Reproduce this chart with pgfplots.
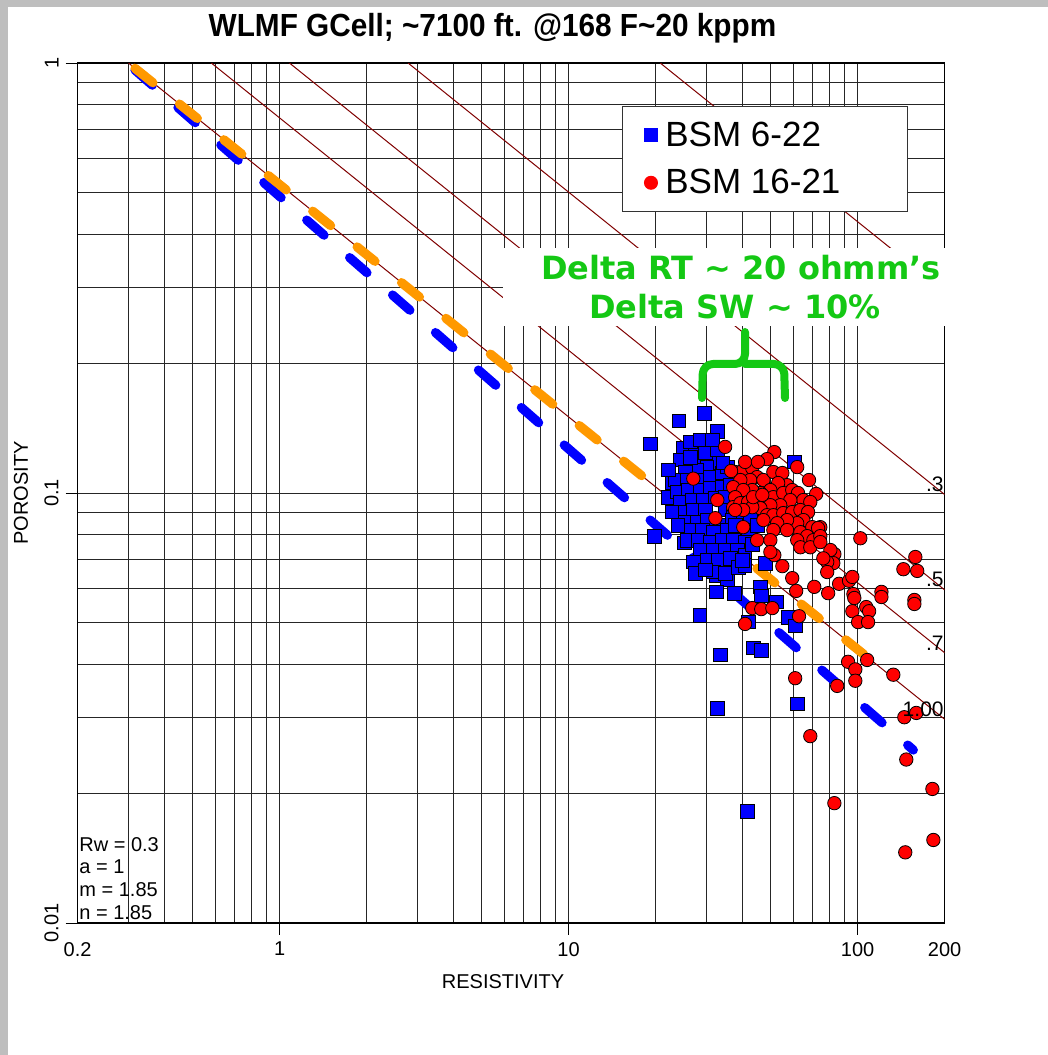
\documentclass[border=0pt]{standalone}
\usepackage{pgfplots}
\usepackage{pgfplotstable}
\pgfplotsset{compat=1.18}
\usepackage{fontspec}
\setmainfont{Liberation Sans}
\newfontfamily\dejavu{DejaVu Sans}
\definecolor{sgreen}{RGB}{20,200,20}
\definecolor{swline}{RGB}{128,0,0}
\definecolor{dorange}{RGB}{255,153,0}
\definecolor{framegray}{RGB}{190,190,190}
\definecolor{pblue}{RGB}{0,0,255}
\definecolor{pred}{RGB}{255,0,0}

\pgfplotstableread{
x y
29.5 0.153
24.1 0.147
32.7 0.139
19.2 0.130
60.4 0.118
19.8 0.0794
25.1 0.0765
28.0 0.0683
32.4 0.0644
35.4 0.0628
32.4 0.0589
37.4 0.0585
46.1 0.0605
46.4 0.0576
47.9 0.0687
52.3 0.0558
57.5 0.0514
60.8 0.0491
41.8 0.0501
28.5 0.0520
33.5 0.0420
43.5 0.0436
46.4 0.0430
32.7 0.0316
61.8 0.0323
41.5 0.0182
22.8 0.1055
22.1 0.0978
24.9 0.127
27.4 0.127
24.3 0.1193
26.8 0.118
29.0 0.1212
30.9 0.1239
32.9 0.1174
30.1 0.1149
27.8 0.1131
25.3 0.1119
23.4 0.1072
25.7 0.1072
28.0 0.1072
30.9 0.1089
34.0 0.1113
35.4 0.1149
23.7 0.1005
25.9 0.1016
28.5 0.1016
30.9 0.1026
34.0 0.1032
36.3 0.1043
24.3 0.0953
26.8 0.0963
29.2 0.0963
32.2 0.0973
34.8 0.0978
24.9 0.0903
27.0 0.0913
29.7 0.0913
34.8 0.0913
37.1 0.0898
25.3 0.0856
27.8 0.0856
30.1 0.0865
33.5 0.0842
36.8 0.0865
40.2 0.0874
42.5 0.0878
26.4 0.0820
29.0 0.0820
31.7 0.0811
35.4 0.0820
38.6 0.0820
41.8 0.0820
25.7 0.0777
28.0 0.0777
30.9 0.0769
34.0 0.0777
37.1 0.0777
40.8 0.0769
28.5 0.0737
31.7 0.0737
34.8 0.0737
38.3 0.0737
27.0 0.0691
30.1 0.0698
32.9 0.0698
36.3 0.0705
40.8 0.0717
31.7 0.0655
34.8 0.0651
38.6 0.0672
26.4 0.1314
28.5 0.1328
29.7 0.1239
32.7 0.1259
34.2 0.1174
39.3 0.0963
37.7 0.0842
40.8 0.0679
23.9 0.0842
22.8 0.0903
27.4 0.0651
29.7 0.0662
43.2 0.0760
26.4 0.1212
31.4 0.1328
22.1 0.1131
39.9 0.0698
44.9 0.0842
}\bluedata

\pgfplotstableread{
x y
34.8 0.128
27.0 0.108
32.7 0.0963
32.2 0.0874
51.5 0.1245
48.6 0.1199
61.8 0.1149
67.9 0.1072
71.9 0.0995
102.2 0.0785
83.1 0.0721
82.4 0.0687
78.5 0.0691
78.5 0.0655
51.5 0.0717
54.9 0.0676
59.4 0.0634
61.3 0.0592
70.8 0.0605
79.1 0.0585
86.3 0.0615
93.4 0.0625
95.9 0.0638
96.7 0.0582
97.4 0.0570
95.9 0.0531
107.1 0.0543
109.6 0.0531
100.4 0.0501
108.7 0.0501
120.9 0.0589
120.9 0.0573
144.0 0.0665
160.8 0.0659
158.4 0.0710
157.2 0.0564
157.2 0.0552
43.2 0.0540
46.4 0.0537
50.7 0.0540
40.8 0.0496
62.7 0.0517
92.7 0.0405
98.2 0.0389
107.9 0.0409
98.2 0.0366
132.9 0.0378
60.8 0.0371
85.0 0.0356
145.1 0.0301
159.6 0.0308
68.6 0.0272
147.4 0.0240
181.5 0.0205
83.1 0.0190
182.9 0.0156
146.2 0.0146
74.3 0.0833
80.5 0.0737
37.7 0.1119
40.2 0.1131
43.2 0.1142
44.9 0.1089
42.5 0.1072
39.3 0.1072
37.1 0.1032
47.2 0.1072
51.1 0.1119
54.9 0.1113
57.0 0.1043
53.1 0.1055
49.9 0.1016
46.1 0.1000
43.2 0.1016
40.2 0.1016
37.7 0.0978
37.1 0.0927
39.3 0.0947
41.8 0.0953
44.9 0.0953
47.9 0.0973
51.1 0.0978
55.3 0.1000
59.4 0.1016
62.2 0.1000
64.9 0.0963
68.6 0.0953
58.5 0.0963
54.0 0.0937
49.9 0.0937
46.1 0.0922
43.2 0.0927
40.2 0.0913
37.7 0.0913
48.6 0.0888
51.1 0.0888
55.3 0.0898
59.4 0.0903
63.4 0.0913
67.4 0.0903
64.9 0.0865
61.8 0.0851
57.0 0.0865
52.7 0.0851
47.2 0.0865
51.1 0.0820
57.0 0.0820
63.4 0.0811
69.7 0.0833
73.0 0.0829
66.9 0.0794
61.8 0.0777
70.3 0.0777
74.3 0.0794
49.9 0.0777
44.9 0.0777
63.4 0.0748
68.6 0.0748
74.3 0.0769
49.9 0.0729
76.1 0.0705
43.5 0.0978
40.2 0.0833
36.5 0.1125
46.8 0.0990
40.8 0.1181
45.2 0.1181
}\reddata

\begin{document}
\begin{tikzpicture}
\tikzset{px/.style={x=0.5pt,y=-0.5pt,shift={(-38.8pt,461.5pt)}}}
\begin{scope}[px]
\fill[white] (0,0) rectangle (1048,1055);
\fill[framegray] (0,0) rectangle (1048,7);
\fill[framegray] (0,0) rectangle (8,1055);
\end{scope}
\begin{axis}[
  at={(0,0)}, anchor=south west,
  scale only axis, width=433.5pt, height=430pt,
  xmode=log, ymode=log,
  xmin=0.2, xmax=200, ymin=0.01, ymax=1,
  xtick={1,10,100}, xticklabels={1,10,100},
  extra x ticks={0.2,200}, extra x tick labels={0.2,200},
  extra x tick style={grid=none, tick style={draw=none}},
  ytick={0.01,0.1,1}, yticklabels={0.01,0.1,1},
  minor xtick={0.3,0.4,0.5,0.6,0.7,0.8,0.9,2,3,4,5,6,7,8,9,20,30,40,50,60,70,80,90},
  minor ytick={0.02,0.03,0.04,0.05,0.06,0.07,0.08,0.09,0.2,0.3,0.4,0.5,0.6,0.7,0.8,0.9},
  grid=both,
  major grid style={black!85, line width=0.5pt},
  minor grid style={black!85, line width=0.5pt},
  tick align=outside, major tick length=6pt, minor tick length=0pt,
  tick pos=left,
  tick style={black, line width=0.5pt},
  axis line style={black, line width=0.7pt},
  tick label style={font=\fontsize{10}{12}\selectfont},
  yticklabel style={rotate=90, anchor=south},
  legend cell align=left,
  legend image code/.code={\draw[#1] plot coordinates {(0pt,0pt)};},
  legend style={at={(0.6279,0.95)}, anchor=north west,
    font=\fontsize{17.5}{20}\selectfont, draw=black!80, line width=0.6pt,
    fill=white, inner xsep=11pt, inner ysep=6pt, row sep=7pt, column sep=2.5pt,
    nodes={inner sep=1.5pt}},
]
\addlegendimage{only marks, mark=square*, mark size=3.2pt, color=pblue, mark options={draw=pblue, fill=pblue}}
\addlegendentry{BSM 6-22}
\addlegendimage{only marks, mark=*, mark size=3.2pt, color=pred, mark options={draw=pred, fill=pred}}
\addlegendentry{BSM 16-21\hspace*{21pt}}

% Archie Sw lines (Rw=0.3, a=1, m=n=1.85)
\addplot[forget plot, swline, line width=0.5pt] coordinates {(0.3,1) (200,0.02978)};
\addplot[forget plot, swline, line width=0.5pt] coordinates {(0.5806,1) (200,0.04252)};
\addplot[forget plot, swline, line width=0.5pt] coordinates {(1.0815,1) (200,0.05954)};
\addplot[forget plot, swline, line width=0.5pt] coordinates {(2.783,1) (200,0.0992)};
\addplot[forget plot, swline, line width=0.5pt] coordinates {(20.75,1) (200,0.294)};

\addplot[forget plot, only marks, mark=square*, mark size=3.4pt,
  mark options={draw=black, fill=pblue, line width=0.4pt}] table[x=x,y=y] {\bluedata};

\addplot[forget plot, pblue, line width=4.6pt, line cap=round, dash pattern=on 11.5pt off 17pt]
  coordinates {(0.316,0.963) (155.9,0.02525)};
\addplot[forget plot, dorange, line width=4.6pt, line cap=round, dash pattern=on 11.5pt off 17pt]
  coordinates {(0.316,0.972) (127.7,0.03793)};

\addplot[forget plot, only marks, mark=*, mark size=3.35pt,
  mark options={draw=black, fill=pred, line width=0.4pt}] table[x=x,y=y] {\reddata};
\end{axis}

\begin{scope}[px]
% title
\node[anchor=base, inner sep=0pt, font=\bfseries\fontsize{16}{19}\selectfont] at (492.5,37)
  {\scalebox{0.93}[1]{WLMF GCell; \textasciitilde7100 ft. @168 F\textasciitilde20 kppm}};
% axis labels
\node[anchor=base, inner sep=0pt, font=\fontsize{10}{12}\selectfont] at (503,988) {RESISTIVITY};
\node[rotate=90, anchor=center, inner sep=0pt, font=\fontsize{10}{12}\selectfont] at (21,493) {POROSITY};
% Sw labels
\node[anchor=base east, inner sep=0pt, font=\fontsize{10.5}{12}\selectfont] at (944,492) {.3};
\node[anchor=base east, inner sep=0pt, font=\fontsize{10.5}{12}\selectfont] at (944,587) {.5};
\node[anchor=base east, inner sep=0pt, font=\fontsize{10.5}{12}\selectfont] at (944,651) {.7};
\node[anchor=base east, inner sep=0pt, font=\fontsize{10.5}{12}\selectfont] at (944,717) {1.00};
% parameters
\node[anchor=base west, inner sep=0pt, font=\fontsize{10}{12}\selectfont] at (79,851.7) {Rw = 0.3};
\node[anchor=base west, inner sep=0pt, font=\fontsize{10}{12}\selectfont] at (79,873.3) {a = 1};
\node[anchor=base west, inner sep=0pt, font=\fontsize{10}{12}\selectfont] at (79,896.7) {m = 1.85};
\node[anchor=base west, inner sep=0pt, font=\fontsize{10}{12}\selectfont] at (79,919) {n = 1.85};
% green annotation
\fill[white] (503,248) rectangle (945,326);
\node[anchor=base, inner sep=0pt, text=sgreen, font=\dejavu\bfseries\fontsize{16}{19}\selectfont] at (741,280)
  {Delta RT \textasciitilde{} 20 ohmm’s};
\node[anchor=base, inner sep=0pt, text=sgreen, font=\dejavu\bfseries\fontsize{16}{19}\selectfont] at (735,319)
  {Delta SW \textasciitilde{} 10\%};
\draw[sgreen, line width=4pt, line cap=round, line join=round, rounded corners=5pt]
  (702,398) -- (703,364) -- (745,364) -- (745,332);
\draw[sgreen, line width=4pt, line cap=round, line join=round, rounded corners=5pt]
  (745,364) -- (784,364) -- (785,398);
\end{scope}
\end{tikzpicture}
\end{document}
